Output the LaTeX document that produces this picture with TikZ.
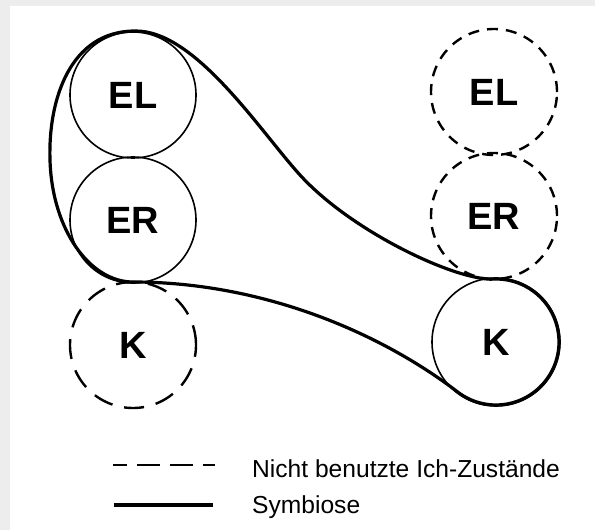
\documentclass[tikz,border=0pt]{standalone}
\usepackage{fontspec}
\setmainfont{Liberation Sans}
\begin{document}
\begin{tikzpicture}[x=1bp,y=-1bp,
  state/.style={circle,minimum size=126bp,inner sep=0pt,line width=1.6bp,
    font=\fontsize{38bp}{40bp}\selectfont\bfseries},
  used/.style={state,draw},
  unusedA/.style={state,draw,line width=2.4bp,dash pattern=on 20bp off 12bp},
  unusedB/.style={state,draw,line width=2.4bp,dash pattern=on 11bp off 8bp},
  outline/.style={line width=3.2bp,line join=round},
  legtext/.style={anchor=base west,inner sep=0pt,font=\fontsize{24.6bp}{28bp}\selectfont}]
\useasboundingbox (0,0) rectangle (595,530);
\fill[black!7] (0,0) rectangle (595,530);
\fill[white] (10,6) rectangle (595,530);
% left column
\node[used] (EL1) at (133,95) {EL};
\node[used] (ER1) at (133,220) {ER};
\node[unusedA] (K1) at (133,345) {K};
% right column
\node[unusedB] (EL2) at (494,92) {EL};
\node[unusedB] (ER2) at (494,216) {ER};
\node[used,minimum size=128bp] (K2) at (496,342) {K};
% symbiosis outline
\draw[outline] (133,282) .. controls (260,282) and (378,331) .. (457.7,392)
  arc[start angle=127.4,end angle=-95,radius=63]
  .. controls (450,278) and (350,230) .. (300,175)
  .. controls (260,131) and (195,30) .. (135,31)
  .. controls (70,31) and (48,100) .. (50,160)
  .. controls (52,230) and (90,282) .. cycle;
% legend
\coordinate (d1) at (113,465);
\coordinate (d2) at (215,465);
\coordinate (s1) at (114,505);
\coordinate (s2) at (213,505);
\draw[line width=2.8bp,dash pattern=on 23bp off 10bp,dash phase=9bp] (d1) -- (d2);
\draw[line width=3.6bp] (s1) -- (s2);
\node[legtext] (l1) at (252,477) {Nicht benutzte Ich-Zustände};
\node[legtext] (l2) at (252,513) {Symbiose};
\end{tikzpicture}
\end{document}
